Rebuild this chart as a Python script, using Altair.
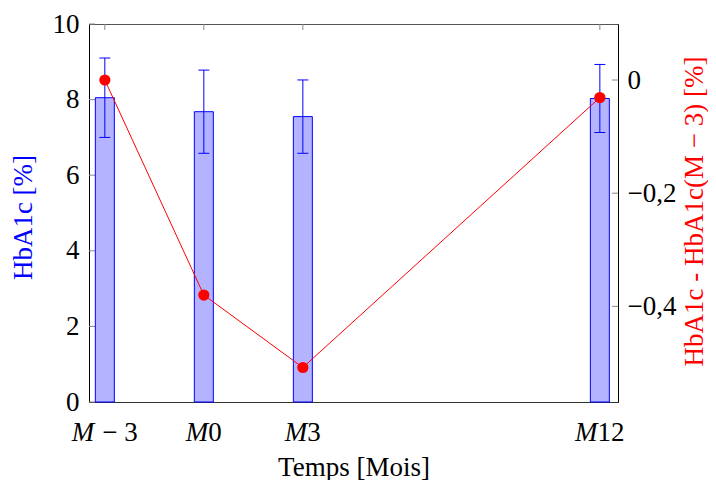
import altair as alt
import pandas as pd

# ---- data ----
months = [-3, 0, 3, 12]
label_num = ["\u2212\u00a03", "0", "3", "12"]
hba1c_mean = [8.05, 7.68, 7.55, 8.03]
hba1c_upper = [9.10, 8.78, 8.52, 8.93]
hba1c_lower = [7.00, 6.58, 6.58, 7.13]
delta = [0.0, -0.38, -0.508, -0.031]
left_ticks = [0, 2, 4, 6, 8, 10]
right_ticks = [-0.4, -0.2, 0.0]

# ---- layout / style ----
W, H = 529, 378
XDOM = [-3.48, 12.55]
YL = [0, 10]
YR = [-0.569, 0.099]
FONT = "Liberation Serif, Times New Roman, serif"
FS = 27
BLUE = "#0000ff"
FILL = "#b3b3ff"
RED = "#ff0000"
TICKC = "#888888"
PX = (XDOM[1] - XDOM[0]) / W  # data units per pixel on x
MW = 22.5  # width of italic M

df = pd.DataFrame(dict(month=months, num=label_num, mean=hba1c_mean,
                       hi=hba1c_upper, lo=hba1c_lower, delta=delta))
lt = pd.DataFrame(dict(v=left_ticks))
rt = pd.DataFrame(dict(v=right_ticks))

xsc = alt.Scale(domain=XDOM, nice=False, zero=False, padding=0)
ylsc = alt.Scale(domain=YL, nice=False, zero=False, padding=0)
yrsc = alt.Scale(domain=YR, nice=False, zero=False, padding=0)

x_main = alt.X("month:Q", scale=xsc, axis=alt.Axis(
    labels=False, ticks=False, grid=False, domainColor="#333333",
    title="Temps [Mois]", titleFont=FONT, titleFontSize=FS,
    titleFontWeight="normal", titleColor="black", titlePadding=52))
x_none = alt.X("month:Q", scale=xsc, axis=None)

base = alt.Chart(df)

bars = base.mark_bar(width=19, fill=FILL, stroke=BLUE, strokeWidth=1).encode(
    x=x_main,
    y=alt.Y("mean:Q", scale=ylsc, axis=alt.Axis(
        values=left_ticks, tickSize=0, labelPadding=10, grid=False,
        labelFont=FONT, labelFontSize=FS, labelColor="black",
        domainColor="black",
        title="HbA1c [%]", titleColor=BLUE, titleFont=FONT, titleFontSize=FS,
        titleFontWeight="normal", titleAngle=270, titleX=-66, titleY=H / 2 + 4,
        titleBaseline="middle", titleAlign="center")),
)
err = base.mark_rule(color=BLUE, strokeWidth=1).encode(
    x=x_none, y=alt.Y("lo:Q", scale=ylsc, axis=None), y2="hi:Q")
cap_hi = base.mark_tick(orient="horizontal", size=11, thickness=1, color=BLUE, opacity=1).encode(
    x=x_none, y=alt.Y("hi:Q", scale=ylsc, axis=None))
cap_lo = base.mark_tick(orient="horizontal", size=11, thickness=1, color=BLUE, opacity=1).encode(
    x=x_none, y=alt.Y("lo:Q", scale=ylsc, axis=None))

lticks = alt.Chart(lt).mark_rule(color=TICKC, strokeWidth=1).encode(
    y=alt.Y("v:Q", scale=ylsc, axis=None), x=alt.value(0), x2=alt.value(6))
tticks = base.mark_rule(color=TICKC, strokeWidth=1).encode(
    x=x_none, y=alt.value(0), y2=alt.value(6))

# label pieces: italic "M" followed by the upright suffix
lab = base.transform_calculate(
    sw="length(datum.num) == 1 ? 13.5 : (length(datum.num) == 2 ? 27 : 35.5)",
    gap="length(datum.num) > 2 ? 8 : 0",
).transform_calculate(
    xm=f"datum.month - ({MW} + datum.gap + datum.sw) / 2 * {PX}"
).transform_calculate(
    xn=f"datum.xm + ({MW} + datum.gap) * {PX}"
)
lab_m = lab.mark_text(align="left", baseline="alphabetic", font=FONT, fontSize=FS,
                      fontStyle="italic", color="black").encode(
    x=alt.X("xm:Q", scale=xsc, axis=None), y=alt.value(H + 39), text=alt.value("M"))
lab_n = lab.mark_text(align="left", baseline="alphabetic", font=FONT, fontSize=FS,
                      color="black").encode(
    x=alt.X("xn:Q", scale=xsc, axis=None), y=alt.value(H + 39), text="num:N")

line = base.mark_line(color=RED, strokeWidth=1).encode(
    x=x_none,
    y=alt.Y("delta:Q", scale=yrsc, axis=alt.Axis(
        orient="right", values=right_ticks, tickSize=0, labelPadding=9, grid=False,
        labelFont=FONT, labelFontSize=FS, labelColor="black", domainColor="black",
        labelExpr="datum.value == 0 ? '0' : replace(replace(format(datum.value, '.1f'), '-', '\u2212'), '.', ',')",
        title="HbA1c - HbA1c(M \u2212 3) [%]", titleColor=RED, titleFont=FONT,
        titleFontSize=FS, titleFontWeight="normal", titleAngle=270, titleX=84,
        titleY=H / 2 - 2, titleBaseline="alphabetic", titleAlign="center")),
)
pts = base.mark_circle(size=125, color=RED, opacity=1).encode(
    x=x_none, y=alt.Y("delta:Q", scale=yrsc, axis=None))
rticks = alt.Chart(rt).mark_rule(color=TICKC, strokeWidth=1).encode(
    y=alt.Y("v:Q", scale=yrsc, axis=None), x=alt.value(W - 6), x2=alt.value(W))

chart = alt.layer(
    lticks, tticks, rticks, bars, err, cap_hi, cap_lo, lab_m, lab_n, line, pts
).resolve_scale(y="independent").resolve_axis(x="independent", y="independent").properties(
    width=W, height=H,
    autosize=alt.AutoSizeParams(type="none"),
    padding={"left": 81, "top": 16, "right": 90, "bottom": 78},
).configure_view(stroke="#555555", strokeWidth=1)

chart.save("out.html", embed_options={"renderer": "svg", "actions": False})
